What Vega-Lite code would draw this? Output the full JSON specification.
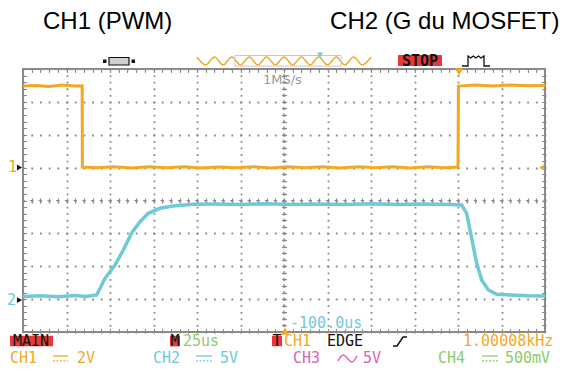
{
  "$schema": "https://vega.github.io/schema/vega-lite/v6.json",
  "width": 522,
  "height": 263,
  "autosize": "none",
  "padding": {"left": 23, "top": 69, "right": 20, "bottom": 39},
  "background": "white",
  "config": {"view": {"stroke": "#8a8a8a", "strokeWidth": 2}},
  "resolve": {"axis": {"x": "independent", "y": "independent"}},
  "datasets": {
    "hc": [{"x": 0, "x2": 12, "y": 0}],
    "vc": [{"x": 6, "y": -4, "y2": 4}],
    "ch1": [
      {"x": 0, "y": 3.48}, {"x": 0.3, "y": 3.5}, {"x": 0.6, "y": 3.47}, {"x": 0.9, "y": 3.51}, {"x": 1.2, "y": 3.48}, {"x": 1.36, "y": 3.49},
      {"x": 1.365, "y": 1.02}, {"x": 1.7, "y": 1.0}, {"x": 2.1, "y": 1.03}, {"x": 2.5, "y": 0.99}, {"x": 2.9, "y": 1.03}, {"x": 3.3, "y": 1.0},
      {"x": 3.7, "y": 1.03}, {"x": 4.1, "y": 0.99}, {"x": 4.5, "y": 1.02}, {"x": 4.9, "y": 1.0}, {"x": 5.3, "y": 1.03}, {"x": 5.7, "y": 0.99},
      {"x": 6.1, "y": 1.03}, {"x": 6.5, "y": 1.0}, {"x": 6.9, "y": 1.03}, {"x": 7.3, "y": 0.99}, {"x": 7.7, "y": 1.03}, {"x": 8.1, "y": 1.0},
      {"x": 8.5, "y": 1.03}, {"x": 8.9, "y": 0.99}, {"x": 9.3, "y": 1.03}, {"x": 9.7, "y": 1.0}, {"x": 10.0, "y": 1.02},
      {"x": 10.01, "y": 3.48}, {"x": 10.4, "y": 3.51}, {"x": 10.8, "y": 3.48}, {"x": 11.2, "y": 3.51}, {"x": 11.6, "y": 3.49}, {"x": 12, "y": 3.5}
    ],
    "ch2": [
      {"x": 0, "y": -2.92}, {"x": 0.4, "y": -2.9}, {"x": 0.8, "y": -2.93}, {"x": 1.2, "y": -2.89}, {"x": 1.45, "y": -2.92},
      {"x": 1.694, "y": -2.875}, {"x": 1.885, "y": -2.367}, {"x": 2.115, "y": -1.962}, {"x": 2.306, "y": -1.506}, {"x": 2.499, "y": -0.989},
      {"x": 2.69, "y": -0.645}, {"x": 2.88, "y": -0.389}, {"x": 3.149, "y": -0.237}, {"x": 3.448, "y": -0.167}, {"x": 3.908, "y": -0.116},
      {"x": 4.4, "y": -0.11}, {"x": 5.0, "y": -0.12}, {"x": 5.6, "y": -0.1}, {"x": 6.2, "y": -0.12}, {"x": 6.8, "y": -0.11}, {"x": 7.4, "y": -0.12},
      {"x": 8.0, "y": -0.1}, {"x": 8.6, "y": -0.12}, {"x": 9.2, "y": -0.11}, {"x": 9.8, "y": -0.12},
      {"x": 10.085, "y": -0.137}, {"x": 10.2, "y": -0.389}, {"x": 10.276, "y": -0.897}, {"x": 10.352, "y": -1.405}, {"x": 10.43, "y": -1.91},
      {"x": 10.545, "y": -2.418}, {"x": 10.697, "y": -2.722}, {"x": 10.89, "y": -2.853}, {"x": 11.195, "y": -2.875}, {"x": 11.6, "y": -2.9}, {"x": 12, "y": -2.905}
    ],
    "sine": [
      {"x": 4.0, "y": 4.365}, {"x": 4.2, "y": 4.122}, {"x": 4.4, "y": 4.365}, {"x": 4.6, "y": 4.122}, {"x": 4.8, "y": 4.365}, {"x": 5.0, "y": 4.122},
      {"x": 5.2, "y": 4.365}, {"x": 5.4, "y": 4.122}, {"x": 5.6, "y": 4.365}, {"x": 5.8, "y": 4.122}, {"x": 6.0, "y": 4.365}, {"x": 6.2, "y": 4.122},
      {"x": 6.4, "y": 4.365}, {"x": 6.6, "y": 4.122}, {"x": 6.8, "y": 4.365}, {"x": 7.0, "y": 4.122}, {"x": 7.2, "y": 4.365}, {"x": 7.4, "y": 4.122},
      {"x": 7.6, "y": 4.365}, {"x": 7.8, "y": 4.122}, {"x": 8.0, "y": 4.365}
    ],
    "sinebox": [{"x": 4.87, "x2": 7.31, "y": 4.41, "y2": 4.09}],
    "red": [
      {"x": -0.299, "x2": 0.69, "y": -4.113, "y2": -4.436},
      {"x": 3.379, "x2": 3.609, "y": -4.113, "y2": -4.436},
      {"x": 5.724, "x2": 5.954, "y": -4.113, "y2": -4.436},
      {"x": 8.621, "x2": 9.632, "y": 4.426, "y2": 4.091}
    ],
    "connsq": [
      {"x": 1.839, "x2": 1.92, "y": 4.289, "y2": 4.183},
      {"x": 2.494, "x2": 2.575, "y": 4.289, "y2": 4.183}
    ],
    "connc": [{"x": 1.977, "x2": 2.437, "y": 4.35, "y2": 4.122}],
    "pulse": [
      {"o": 1, "x": 10.092, "y": 4.091}, {"o": 2, "x": 10.23, "y": 4.091}, {"o": 3, "x": 10.23, "y": 4.395},
      {"o": 4, "x": 10.29, "y": 4.335}, {"o": 5, "x": 10.35, "y": 4.395}, {"o": 6, "x": 10.41, "y": 4.335},
      {"o": 7, "x": 10.47, "y": 4.395}, {"o": 8, "x": 10.53, "y": 4.335}, {"o": 9, "x": 10.598, "y": 4.395},
      {"o": 10, "x": 10.598, "y": 4.091}, {"o": 11, "x": 10.736, "y": 4.091}
    ],
    "edge": [
      {"o": 1, "x": 8.506, "y": -4.426}, {"o": 2, "x": 8.598, "y": -4.426}, {"o": 3, "x": 8.736, "y": -4.153}, {"o": 4, "x": 8.828, "y": -4.153}
    ],
    "tilde": [
      {"x": 7.241, "y": -4.88, "c": "CH3"}, {"x": 7.356, "y": -4.70, "c": "CH3"}, {"x": 7.563, "y": -4.91, "c": "CH3"}, {"x": 7.678, "y": -4.73, "c": "CH3"}
    ],
    "dcs": [
      {"x": 0.69, "x2": 1.034, "y": -4.73, "c": "CH1"},
      {"x": 3.977, "x2": 4.345, "y": -4.73, "c": "CH2"},
      {"x": 10.552, "x2": 10.92, "y": -4.73, "c": "CH4"}
    ],
    "dcd": [
      {"x": 0.69, "x2": 1.034, "y": -4.88, "c": "CH1"},
      {"x": 3.977, "x2": 4.345, "y": -4.88, "c": "CH2"},
      {"x": 10.552, "x2": 10.92, "y": -4.88, "c": "CH4"}
    ],
    "txt": [
      {"t": "MAIN", "x": -0.23, "y": -4.274, "c": "K"},
      {"t": "M", "x": 3.39, "y": -4.274, "c": "K"},
      {"t": "25us", "x": 3.678, "y": -4.274, "c": "CH4"},
      {"t": "T", "x": 5.735, "y": -4.274, "c": "K"},
      {"t": "CH1", "x": 6.0, "y": -4.274, "c": "CH1"},
      {"t": "EDGE", "x": 6.989, "y": -4.274, "c": "K"},
      {"t": "1.00008kHz", "x": 10.115, "y": -4.274, "c": "CH1"},
      {"t": "CH1", "x": -0.299, "y": -4.791, "c": "CH1"},
      {"t": "2V", "x": 1.241, "y": -4.791, "c": "CH1"},
      {"t": "CH2", "x": 2.989, "y": -4.791, "c": "CH2"},
      {"t": "5V", "x": 4.529, "y": -4.791, "c": "CH2"},
      {"t": "CH3", "x": 6.207, "y": -4.791, "c": "CH3"},
      {"t": "5V", "x": 7.816, "y": -4.791, "c": "CH3"},
      {"t": "CH4", "x": 9.54, "y": -4.791, "c": "CH4"},
      {"t": "500mV", "x": 11.08, "y": -4.791, "c": "CH4"},
      {"t": "-100.0us", "x": 6.138, "y": -3.726, "c": "CH2"},
      {"t": "1", "x": -0.345, "y": 1.004, "c": "CH1"},
      {"t": "2", "x": -0.368, "y": -3.03, "c": "CH2"}
    ],
    "stop": [{"t": "STOP", "x": 9.126, "y": 4.243}],
    "ms": [{"t": "1MS/s", "x": 5.517, "y": 3.665}],
    "titles": [
      {"t": "CH1 (PWM)", "x": 0.46, "y": 5.22},
      {"t": "CH2 (G du MOSFET)", "x": 7.06, "y": 5.22}
    ],
    "tribig": [
      {"x": 10.023, "y": 3.909, "k": "down", "c": "CH1"},
      {"x": 6.023, "y": -3.97, "k": "up", "c": "CH1"}
    ],
    "trismall": [
      {"x": 11.92, "y": 1.0, "k": "left", "c": "CH1"},
      {"x": -0.08, "y": 1.004, "k": "right", "c": "K"},
      {"x": -0.08, "y": -3.03, "k": "right", "c": "K"},
      {"x": 6.828, "y": 4.426, "k": "down", "c": "CH2"}
    ]
  },
  "encoding": {
    "x": {"field": "x", "type": "quantitative", "scale": {"domain": [0, 12], "nice": false, "zero": false}, "axis": null},
    "y": {"field": "y", "type": "quantitative", "scale": {"domain": [-4, 4], "nice": false, "zero": false}, "axis": null}
  },
  "layer": [
    {
      "data": {"name": "hc"},
      "mark": {"type": "rule", "color": "#8a8a8a", "strokeWidth": 1.2, "strokeDash": [3.5, 5.2], "strokeDashOffset": 1.75},
      "encoding": {
        "x": {"field": "x", "type": "quantitative", "scale": {"domain": [0, 12], "nice": false, "zero": false},
          "axis": {"orient": "bottom", "title": null, "grid": true, "tickCount": 12, "domain": false, "ticks": false, "labels": false,
            "gridColor": "#8a8a8a", "gridOpacity": 1, "gridWidth": 1.8, "gridDash": [1.8, 4.775], "gridDashOffset": 0.9}},
        "x2": {"field": "x2"},
        "y": {"field": "y", "type": "quantitative", "scale": {"domain": [-4, 4], "nice": false, "zero": false},
          "axis": {"orient": "left", "title": null, "grid": true, "tickCount": 8, "domain": false, "ticks": false, "labels": false,
            "gridColor": "#8a8a8a", "gridOpacity": 1, "gridWidth": 1.8, "gridDash": [1.8, 6.9], "gridDashOffset": 0.9}}
      }
    },
    {
      "data": {"name": "vc"},
      "mark": {"type": "rule", "color": "#8a8a8a", "strokeWidth": 1.2, "strokeDash": [3.5, 3.075], "strokeDashOffset": 1.75},
      "encoding": {
        "x": {"field": "x", "type": "quantitative", "scale": {"domain": [0, 12], "nice": false, "zero": false},
          "axis": {"orient": "bottom", "offset": -3.5, "title": null, "grid": false, "tickCount": 60, "tickSize": 3.5, "tickColor": "#8a8a8a", "tickWidth": 1, "domain": false, "labels": false}},
        "y": {"field": "y", "type": "quantitative", "scale": {"domain": [-4, 4], "nice": false, "zero": false},
          "axis": {"orient": "left", "offset": -3.5, "title": null, "grid": false, "tickCount": 40, "tickSize": 3.5, "tickColor": "#8a8a8a", "tickWidth": 1, "domain": false, "labels": false}},
        "y2": {"field": "y2"}
      }
    },
    {
      "data": {"name": "ch1"},
      "mark": {"type": "line", "color": "#F3A823", "strokeWidth": 3},
      "encoding": {
        "x": {"field": "x", "type": "quantitative", "scale": {"domain": [0, 12], "nice": false, "zero": false},
          "axis": {"orient": "top", "offset": -3.5, "title": null, "grid": false, "tickCount": 60, "tickSize": 3.5, "tickColor": "#8a8a8a", "tickWidth": 1, "domain": false, "labels": false}},
        "y": {"field": "y", "type": "quantitative", "scale": {"domain": [-4, 4], "nice": false, "zero": false},
          "axis": {"orient": "right", "offset": -3.5, "title": null, "grid": false, "tickCount": 40, "tickSize": 3.5, "tickColor": "#8a8a8a", "tickWidth": 1, "domain": false, "labels": false}}
      }
    },
    {
      "data": {"name": "ch2"},
      "mark": {"type": "line", "color": "#6FC9D9", "strokeWidth": 3.5},
      "encoding": {
        "x": {"field": "x", "type": "quantitative", "scale": {"domain": [0, 12], "nice": false, "zero": false},
          "axis": {"orient": "bottom", "offset": -134, "title": null, "grid": false, "tickCount": 60, "tickSize": 5, "tickColor": "#8a8a8a", "tickWidth": 1.2, "domain": false, "labels": false}},
        "y": {"field": "y", "type": "quantitative", "scale": {"domain": [-4, 4], "nice": false, "zero": false},
          "axis": {"orient": "left", "offset": -263.5, "title": null, "grid": false, "tickCount": 40, "tickSize": 5, "tickColor": "#8a8a8a", "tickWidth": 1.2, "domain": false, "labels": false}}
      }
    },
    {
      "data": {"name": "sine"},
      "mark": {"type": "line", "color": "#F3A823", "strokeWidth": 1.4, "interpolate": "monotone"},
      "encoding": {}
    },
    {
      "data": {"name": "sinebox"},
      "mark": {"type": "rect", "fill": null, "fillOpacity": 0, "stroke": "#c8c8c8", "strokeWidth": 1},
      "encoding": {"x2": {"field": "x2"}, "y2": {"field": "y2"}}
    },
    {
      "data": {"name": "red"},
      "mark": {"type": "rect", "color": "#E8383A"},
      "encoding": {"x2": {"field": "x2"}, "y2": {"field": "y2"}}
    },
    {
      "data": {"name": "connc"},
      "mark": {"type": "rect", "fill": "#cfcfcf", "stroke": "#111111", "strokeWidth": 1.2},
      "encoding": {"x2": {"field": "x2"}, "y2": {"field": "y2"}}
    },
    {
      "data": {"name": "connsq"},
      "mark": {"type": "rect", "color": "#111111"},
      "encoding": {"x2": {"field": "x2"}, "y2": {"field": "y2"}}
    },
    {
      "data": {"name": "pulse"},
      "mark": {"type": "line", "color": "#111111", "strokeWidth": 1.3},
      "encoding": {"order": {"field": "o", "type": "quantitative"}}
    },
    {
      "data": {"name": "edge"},
      "mark": {"type": "line", "color": "#111111", "strokeWidth": 1.5},
      "encoding": {"order": {"field": "o", "type": "quantitative"}}
    },
    {
      "data": {"name": "tilde"},
      "mark": {"type": "line", "strokeWidth": 1.5, "interpolate": "monotone"},
      "encoding": {
        "color": {"field": "c", "type": "nominal", "legend": null,
          "scale": {"domain": ["CH1", "CH2", "CH3", "CH4", "K"], "range": ["#F3A823", "#6FC9D9", "#D965B3", "#8CCB6C", "#111111"]}}
      }
    },
    {
      "data": {"name": "dcs"},
      "mark": {"type": "rule", "strokeWidth": 1.3},
      "encoding": {
        "x2": {"field": "x2"},
        "color": {"field": "c", "type": "nominal", "legend": null,
          "scale": {"domain": ["CH1", "CH2", "CH3", "CH4", "K"], "range": ["#F3A823", "#6FC9D9", "#D965B3", "#8CCB6C", "#111111"]}}
      }
    },
    {
      "data": {"name": "dcd"},
      "mark": {"type": "rule", "strokeWidth": 1.3, "strokeDash": [2, 1.5]},
      "encoding": {
        "x2": {"field": "x2"},
        "color": {"field": "c", "type": "nominal", "legend": null,
          "scale": {"domain": ["CH1", "CH2", "CH3", "CH4", "K"], "range": ["#F3A823", "#6FC9D9", "#D965B3", "#8CCB6C", "#111111"]}}
      }
    },
    {
      "data": {"name": "txt"},
      "mark": {"type": "text", "font": "DejaVu Sans Mono", "fontSize": 15, "align": "left", "baseline": "middle"},
      "encoding": {
        "text": {"field": "t"},
        "color": {"field": "c", "type": "nominal", "legend": null,
          "scale": {"domain": ["CH1", "CH2", "CH3", "CH4", "K"], "range": ["#F3A823", "#6FC9D9", "#D965B3", "#8CCB6C", "#111111"]}}
      }
    },
    {
      "data": {"name": "stop"},
      "mark": {"type": "text", "font": "DejaVu Sans Mono", "fontSize": 15, "fontWeight": "bold", "align": "center", "baseline": "middle", "color": "#111111"},
      "encoding": {"text": {"field": "t"}}
    },
    {
      "data": {"name": "ms"},
      "mark": {"type": "text", "font": "DejaVu Sans", "fontSize": 13, "align": "left", "baseline": "middle", "color": "#9a9a9a"},
      "encoding": {"text": {"field": "t"}}
    },
    {
      "data": {"name": "titles"},
      "mark": {"type": "text", "font": "Liberation Sans", "fontSize": 24, "align": "left", "baseline": "alphabetic", "color": "#000000"},
      "encoding": {"text": {"field": "t"}}
    },
    {
      "data": {"name": "tribig"},
      "mark": {"type": "point", "filled": true, "size": 70, "opacity": 1},
      "encoding": {
        "shape": {"field": "k", "type": "nominal", "legend": null,
          "scale": {"domain": ["down", "up", "left", "right"], "range": ["triangle-down", "triangle-up", "triangle-left", "triangle-right"]}},
        "color": {"field": "c", "type": "nominal", "legend": null,
          "scale": {"domain": ["CH1", "CH2", "CH3", "CH4", "K"], "range": ["#F3A823", "#6FC9D9", "#D965B3", "#8CCB6C", "#111111"]}}
      }
    },
    {
      "data": {"name": "trismall"},
      "mark": {"type": "point", "filled": true, "size": 35, "opacity": 1},
      "encoding": {
        "shape": {"field": "k", "type": "nominal", "legend": null,
          "scale": {"domain": ["down", "up", "left", "right"], "range": ["triangle-down", "triangle-up", "triangle-left", "triangle-right"]}},
        "color": {"field": "c", "type": "nominal", "legend": null,
          "scale": {"domain": ["CH1", "CH2", "CH3", "CH4", "K"], "range": ["#F3A823", "#6FC9D9", "#D965B3", "#8CCB6C", "#111111"]}}
      }
    }
  ]
}
